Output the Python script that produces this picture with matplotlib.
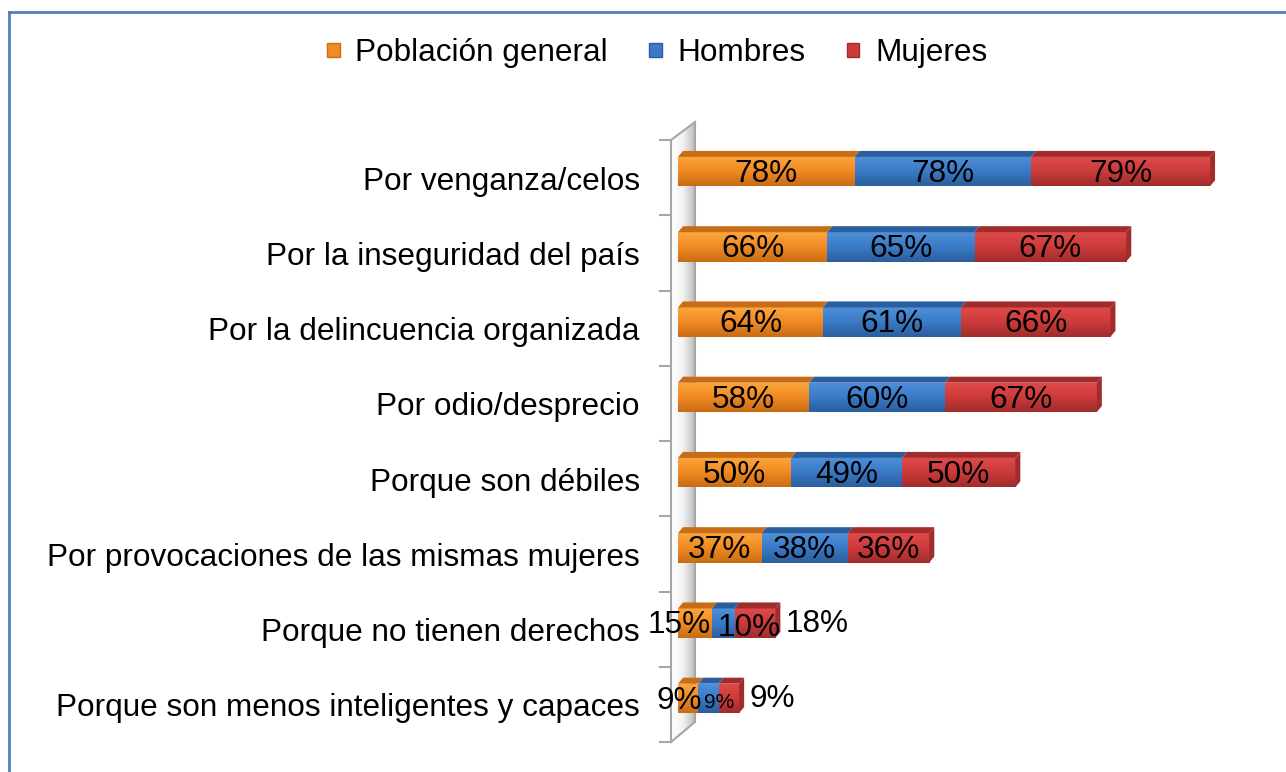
import numpy as np
import matplotlib
matplotlib.use('Agg')
import matplotlib.pyplot as plt
from matplotlib.patches import Polygon, Rectangle

plt.rcParams['font.family'] = ['Liberation Sans', 'DejaVu Sans']

# Datos
categorias = ['Por venganza/celos', 'Por la inseguridad del país',
              'Por la delincuencia organizada', 'Por odio/desprecio',
              'Porque son débiles', 'Por provocaciones de las mismas mujeres',
              'Porque no tienen derechos', 'Porque son menos inteligentes y capaces']
poblacion = [78, 66, 64, 58, 50, 37, 15, 9]
hombres = [78, 65, 61, 60, 49, 38, 10, 9]
mujeres = [79, 67, 66, 67, 50, 36, 18, 9]
series = ['Población general', 'Hombres', 'Mujeres']

colores = ['#F08A22', '#3A7AC6', '#CC3B3B']
claros = ['#FBA63C', '#4F90DA', '#E04A4A']
oscuros = ['#C86C16', '#2B5E9E', '#A02C2C']

FS = 22.7
W, H = 1286, 772
fig = plt.figure(figsize=(W / 100, H / 100), dpi=100)

ax_l, ax_r, ax_t, ax_b = 671, 1250, 140, 742
ax = fig.add_axes([ax_l / W, 1 - ax_b / H, (ax_r - ax_l) / W, (ax_b - ax_t) / H])
escala = 2.264  # px por unidad
ax.set_xlim((ax_l - 678) / escala, (ax_r - 678) / escala)
n = len(categorias)
ax.set_ylim(n - 0.5, -0.5)
ax.axis('off')

y = np.arange(n) - 0.08
alto = 0.39
dx = 5 / escala
dy = 6 / 75.25

# capa de fondo en pixeles: pared 3D, ticks, borde y nombres
gax = fig.add_axes([0, 0, 1, 1], zorder=-1)
gax.set_xlim(0, W)
gax.set_ylim(H, 0)
gax.axis('off')
grad = np.linspace(0, 1, 50).reshape(1, -1)
cmap_pared = matplotlib.colors.LinearSegmentedColormap.from_list('p', ['#FFFFFF', '#F2F2F2', '#BDBDBD'])
img = gax.imshow(grad, extent=(671, 695, 742, 122), cmap=cmap_pared, aspect='auto')
pw = Polygon([(671, 140), (695, 122), (695, 722), (671, 742)], closed=True, transform=gax.transData)
img.set_clip_path(pw)
gris = '#A6A6A6'
gax.plot([671, 671], [140, 742], color=gris, lw=1.5)
gax.plot([695, 695], [122, 722], color=gris, lw=1.5)
gax.plot([671, 695], [140, 122], color=gris, lw=1.5)
gax.plot([671, 695], [742, 722], color=gris, lw=1.5)
for i in range(n + 1):
    yy = 140 + i * (742 - 140) / n
    gax.plot([660, 671], [yy, yy], color=gris, lw=1.5)
# borde
gax.plot([9, W], [12, 12], color='#4F81BD', lw=2)
gax.plot([9, 9], [12, H], color='#4F81BD', lw=2)

for i, c in enumerate(categorias):
    gax.text(640, 140 + (i + 0.5) * (742 - 140) / n + 4, c, ha='right', va='center', fontsize=FS)

# barras
izq = np.zeros(n)
valores = [poblacion, hombres, mujeres]
for k, vals in enumerate(valores):
    vals = np.array(vals, dtype=float)
    barras = ax.barh(y, vals, left=izq, height=alto, color=colores[k], edgecolor='none', zorder=2)
    cm = matplotlib.colors.LinearSegmentedColormap.from_list('g', [claros[k], colores[k], oscuros[k]])
    for b in barras:
        x0, y0 = b.get_x(), b.get_y()
        w, h = b.get_width(), b.get_height()
        g = ax.imshow(np.linspace(0, 1, 40).reshape(-1, 1), extent=(x0, x0 + w, y0 + h, y0),
                      cmap=cm, aspect='auto', zorder=2.1)
        g.set_clip_path(b)
        ax.add_patch(Polygon([(x0, y0), (x0 + w, y0), (x0 + w + dx, y0 - dy), (x0 + dx, y0 - dy)],
                             closed=True, facecolor=oscuros[k], edgecolor='none', zorder=2.2))
        if k == 2:
            ax.add_patch(Polygon([(x0 + w, y0), (x0 + w + dx, y0 - dy), (x0 + w + dx, y0 + h - dy),
                                  (x0 + w, y0 + h)], closed=True, facecolor=oscuros[k],
                                 edgecolor='none', zorder=2.2))
    izq = izq + vals

# etiquetas
izq = np.zeros(n)
for k, vals in enumerate(valores):
    for i, v in enumerate(vals):
        yc = y[i] + 0.03
        total = poblacion[i] + hombres[i] + mujeres[i]
        if total >= 60:
            ax.text(izq[i] + v / 2, yc, f'{v}%', ha='center', va='center', fontsize=FS, zorder=5)
        else:
            if k == 0:
                ax.text(izq[i] + 0.5, yc, f'{v}%', ha='center', va='center', fontsize=FS, zorder=5)
            elif k == 1:
                fs = FS if v >= 10 else 15
                ax.text(izq[i] + 2.5, yc + 0.03, f'{v}%', ha='left', va='center', fontsize=fs, zorder=5)
            else:
                ax.text(izq[i] + v + 4.5, yc - 0.02, f'{v}%', ha='left', va='center', fontsize=FS, zorder=5)
    izq = izq + np.array(vals)

# leyenda
manijas = [Rectangle((0, 0), 1, 1, facecolor=colores[k], edgecolor=oscuros[k]) for k in range(3)]
fig.legend(manijas, series, loc='center', bbox_to_anchor=(0.511, 1 - 53 / H), ncol=3, frameon=False,
           fontsize=FS, handlelength=0.4, handleheight=0.3, handletextpad=0.5, columnspacing=1.3)

fig.savefig('out.png', dpi=100, facecolor='white')
